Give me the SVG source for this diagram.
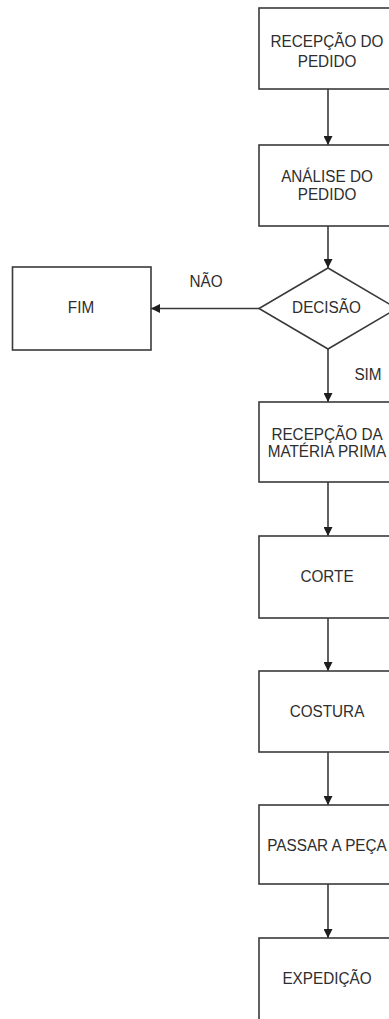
<svg xmlns="http://www.w3.org/2000/svg" width="389" height="1019" viewBox="0 0 389 1019">
<style>
.box{fill:#fff;stroke:#3a3a3a;stroke-width:1.6}
.t{font-family:"Liberation Sans",Arial,sans-serif;font-size:15.3px;fill:#2e2e2e;text-anchor:middle}
.c{stroke:#3a3a3a;stroke-width:1.6;fill:none}
</style>
<defs>
<marker id="ah" viewBox="0 0 10 10" refX="10" refY="5" markerWidth="9" markerHeight="9" markerUnits="userSpaceOnUse" orient="auto">
<path d="M0,0 L10,5 L0,10 Z" fill="#1e1e1e"/>
</marker>
</defs>
<rect width="389" height="1019" fill="#fff"/>
<g id="connectors">
<line class="c" x1="328" y1="89" x2="328" y2="145" marker-end="url(#ah)"/>
<line class="c" x1="328" y1="226" x2="328" y2="268" marker-end="url(#ah)"/>
<line class="c" x1="259" y1="308.5" x2="151" y2="308.5" marker-end="url(#ah)"/>
<line class="c" x1="328" y1="349" x2="328" y2="402" marker-end="url(#ah)"/>
<line class="c" x1="328" y1="482" x2="328" y2="536" marker-end="url(#ah)"/>
<line class="c" x1="328" y1="618" x2="328" y2="671" marker-end="url(#ah)"/>
<line class="c" x1="328" y1="752" x2="328" y2="805" marker-end="url(#ah)"/>
<line class="c" x1="328" y1="884" x2="328" y2="938" marker-end="url(#ah)"/>
<text class="t" transform="translate(206,287) scale(1,1.08)">NÃO</text>
<text class="t" transform="translate(368,380) scale(1,1.08)">SIM</text>
</g>
<g id="n1"><rect class="box" x="259" y="8" width="138" height="81"/><text class="t" transform="translate(327,47) scale(1,1.08)">RECEPÇÃO DO</text><text class="t" transform="translate(327,67) scale(1,1.08)">PEDIDO</text></g>
<g id="n2"><rect class="box" x="259" y="145" width="138" height="81"/><text class="t" transform="translate(327,182) scale(1,1.08)">ANÁLISE DO</text><text class="t" transform="translate(327,199.5) scale(1,1.08)">PEDIDO</text></g>
<g id="n3"><polygon class="box" points="328,268 397,308.5 328,349 259,308.5"/><text class="t" transform="translate(326.5,313) scale(1,1.08)">DECISÃO</text></g>
<g id="n4"><rect class="box" x="12.5" y="267" width="138.5" height="83"/><text class="t" transform="translate(81,313) scale(1,1.08)">FIM</text></g>
<g id="n5"><rect class="box" x="259" y="402" width="138" height="80"/><text class="t" transform="translate(327,440) scale(1,1.08)">RECEPÇÃO DA</text><text class="t" transform="translate(327,457) scale(1,1.08)">MATÉRIA PRIMA</text></g>
<g id="n6"><rect class="box" x="259" y="536" width="138" height="82"/><text class="t" transform="translate(327,582) scale(1,1.08)">CORTE</text></g>
<g id="n7"><rect class="box" x="259" y="671" width="138" height="81"/><text class="t" transform="translate(327,717) scale(1,1.08)">COSTURA</text></g>
<g id="n8"><rect class="box" x="259" y="805" width="138" height="79"/><text class="t" transform="translate(327,851) scale(1,1.08)">PASSAR A PEÇA</text></g>
<g id="n9"><rect class="box" x="259" y="938" width="138" height="90"/><text class="t" transform="translate(327,984) scale(1,1.08)">EXPEDIÇÃO</text></g>
</svg>
